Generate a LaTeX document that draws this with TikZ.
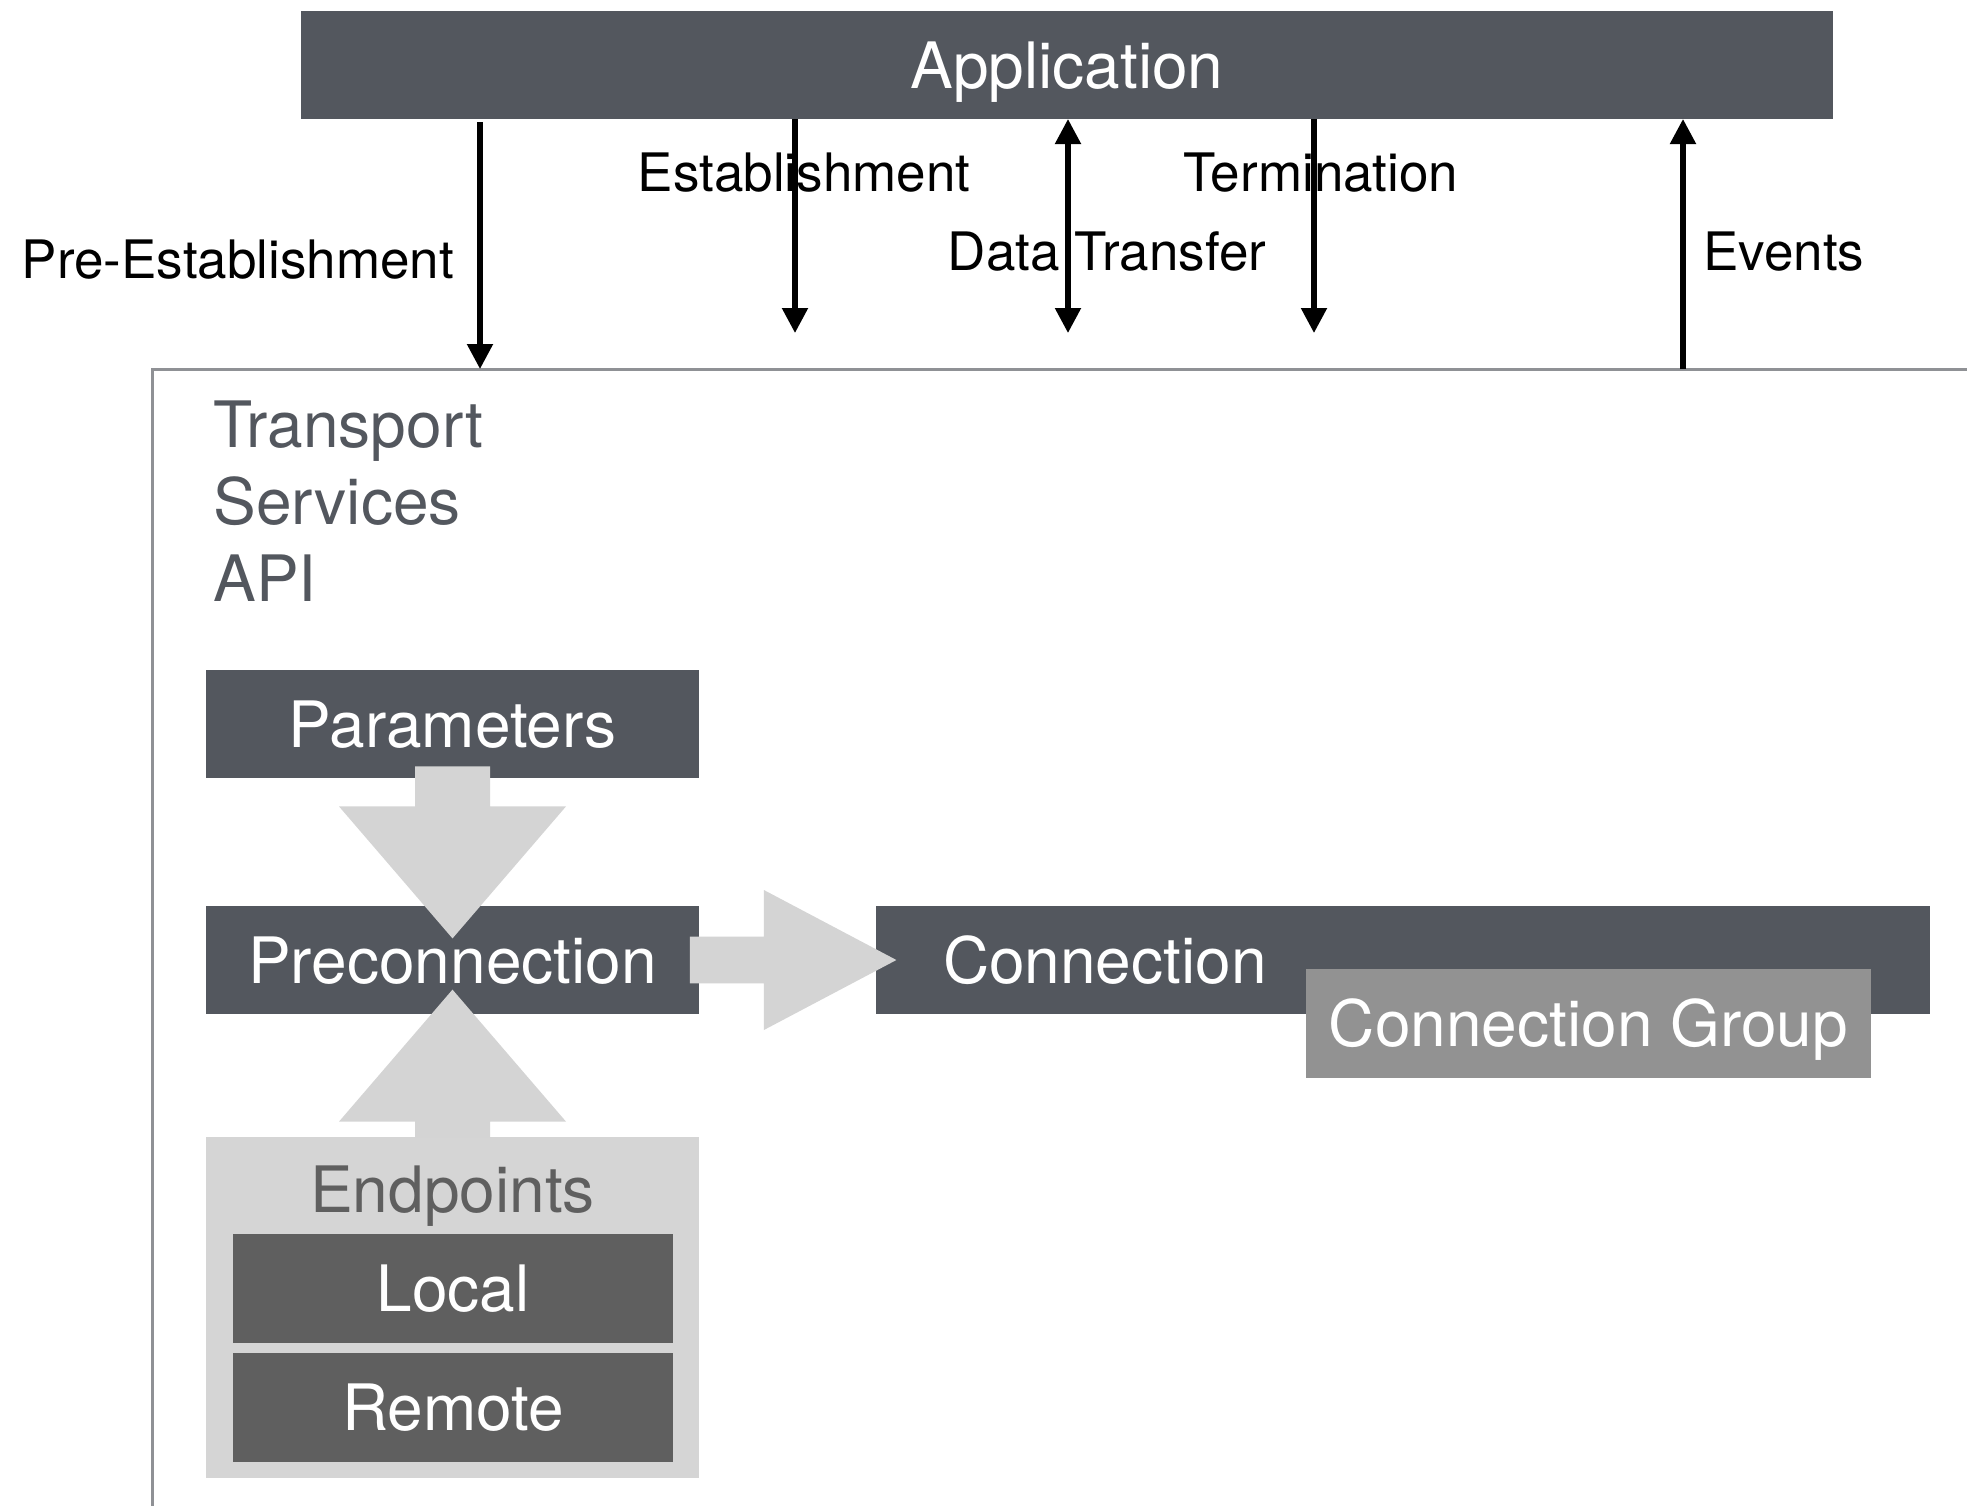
\documentclass[tikz,border=0pt]{standalone}
\usepackage{fontspec}
\setmainfont{TeX Gyre Heros}
\usetikzlibrary{arrows.meta}
\definecolor{boxdark}{HTML}{53575E}
\definecolor{arrowgray}{HTML}{D4D4D4}
\definecolor{epbg}{HTML}{D5D5D5}
\definecolor{subgray}{HTML}{5F5F5F}
\definecolor{groupgray}{HTML}{929292}
\definecolor{framegray}{HTML}{8F9195}
\begin{document}
\begin{tikzpicture}[x=0.5pt,y=-0.5pt,
  bigfont/.style={font=\fontsize{32}{39}\selectfont},
  box/.style={bigfont, fill=boxdark, draw=none, inner sep=0pt, text=white,
    text height=23pt, text depth=0pt, minimum height=54pt},
  subbox/.style={box, fill=subgray},
  lbl/.style={font=\fontsize{26.5}{32}\selectfont, inner sep=0pt, anchor=base, text=black},
  tsapi/.style={bigfont, inner sep=0pt, anchor=base west, text=boxdark},
  thinarrow/.style={line width=2.6pt, -{Triangle[length=12.5pt,width=12.5pt]}},
  bigarrow/.style={fill=arrowgray, draw=none},
  frame/.style={draw=framegray, line width=1.5pt}]
\useasboundingbox (0,0) rectangle (1967,1506);
\clip (0,0) rectangle (1967,1506);
\fill[white] (0,0) rectangle (1967,1506);

% outer frame of the Transport Services API
\draw[frame] (152,1530) -- (152,369) -- (1990,369);

% labels
\node[lbl] (lpre) at (238,278) {Pre-Establishment};
\node[lbl] (lest) at (804,191) {Establishment};
\node[lbl] (ldata) at (1107,270) {Data Transfer};
\node[lbl] (lterm) at (1321,191) {Termination};
\node[lbl, anchor=base west] (levt) at (1703,270) {Events};

% Application
\node[box, minimum width=766pt] (app) at (1067,65) {Application};

% arrow end points
\coordinate (preA) at (480,122);  \coordinate (preB) at (480,369);
\coordinate (estA) at (795,119);  \coordinate (estB) at (795,333);
\coordinate (datA) at (1068,119); \coordinate (datB) at (1068,333);
\coordinate (terA) at (1314,119); \coordinate (terB) at (1314,333);
\coordinate (evtA) at (1683,369); \coordinate (evtB) at (1683,119);

\draw[thinarrow] (preA) -- (preB);
\draw[thinarrow] (estA) -- (estB);
\draw[line width=2.6pt, {Triangle[length=12.5pt,width=12.5pt]}-{Triangle[length=12.5pt,width=12.5pt]}] (datA) -- (datB);
\draw[thinarrow] (terA) -- (terB);
\draw[thinarrow] (evtA) -- (evtB);

% Transport Services API title
\node[tsapi] (ts1) at (213,447) {Transport};
\node[tsapi] (ts2) at (213,524) {Services};
\node[tsapi] (ts3) at (213,601) {API};

% boxes
\node[box, minimum width=246.5pt] (param) at (452.5,724) {Parameters};
\node[box, minimum width=246.5pt] (precon) at (452.5,960) {Preconnection};
\node[box, minimum width=527pt, text width=460pt, align=left] (conn) at (1403,960) {Connection};
\node[box, fill=groupgray, minimum width=282.5pt, minimum height=54.5pt] (cgroup) at (1588.5,1023.5) {Connection Group};

\node[fill=epbg, draw=none, inner sep=0pt, minimum width=246.5pt, minimum height=170.5pt] (ep) at (452.5,1307.5) {};
\node[bigfont, text=subgray, inner sep=0pt, text height=23pt, text depth=0pt] (eptext) at (452.5,1189) {Endpoints};
\node[subbox, minimum width=220pt, minimum height=54.5pt] (local) at (453,1288.5) {Local};
\node[subbox, minimum width=220pt, minimum height=54.5pt] (remote) at (453,1407.5) {Remote};

% big gray arrows
\fill[bigarrow, shift={(param.south)}]
  (-37.5,-12) -- (37.5,-12) -- (37.5,28) -- (113.5,28) -- (0,160)
  -- (-113.5,28) -- (-37.5,28) -- cycle;
\fill[bigarrow, shift={(ep.north)}]
  (-37.5,1) -- (-37.5,-15) -- (-113.5,-15) -- (0,-147)
  -- (113.5,-15) -- (37.5,-15) -- (37.5,1) -- cycle;
\fill[bigarrow, shift={(precon.east)}]
  (-9.5,-23.3) -- (64.5,-23.3) -- (64.5,-70) -- (197,0)
  -- (64.5,70) -- (64.5,23.3) -- (-9.5,23.3) -- cycle;
\end{tikzpicture}
\end{document}
